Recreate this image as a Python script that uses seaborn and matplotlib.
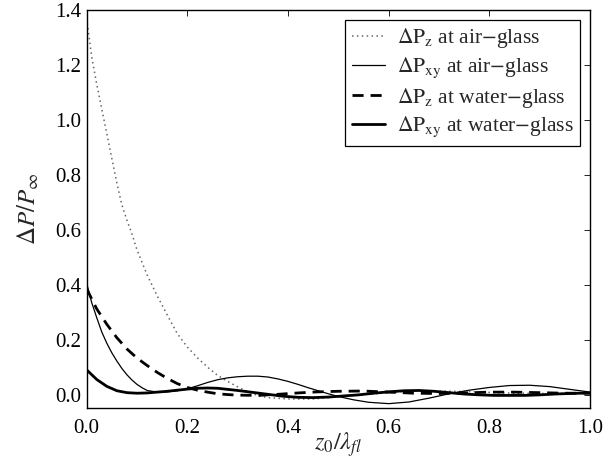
import numpy as np
import matplotlib
matplotlib.use('Agg')
import matplotlib.pyplot as plt
import seaborn as sns

sns.set_style('white')
plt.rcParams['font.family'] = ['Liberation Serif', 'DejaVu Serif']
plt.rcParams['mathtext.fontset'] = 'stix'

# air-glass, dPz (dotted)
x_air_z = [0, 0.005, 0.01, 0.02, 0.03, 0.04, 0.05, 0.06, 0.07, 0.08, 0.09, 0.10,
           0.12, 0.14, 0.16, 0.18, 0.20, 0.22, 0.24, 0.26, 0.28, 0.30, 0.32, 0.34,
           0.36, 0.40, 0.45, 0.50, 0.55, 0.60, 0.65, 0.70, 0.75, 0.80, 0.85, 0.90,
           0.95, 1.0]
y_air_z = [1.37, 1.30, 1.23, 1.13, 1.04, 0.95, 0.86, 0.77, 0.69, 0.635, 0.585, 0.527,
           0.436, 0.36, 0.29, 0.222, 0.173, 0.134, 0.10, 0.07, 0.048, 0.028, 0.01, -0.004,
           -0.011, -0.016, -0.016, -0.008, 0.0, 0.007, 0.014, 0.013, 0.011, 0.008, 0.005, 0.004,
           0.004, 0.005]

# air-glass, dPxy (thin solid)
x_air_xy = [0, 0.01, 0.02, 0.03, 0.04, 0.05, 0.06, 0.07, 0.08, 0.09, 0.10, 0.11, 0.12,
            0.14, 0.16, 0.18, 0.20, 0.22, 0.24, 0.26, 0.28, 0.30, 0.32, 0.34, 0.36, 0.38,
            0.40, 0.42, 0.44, 0.46, 0.48, 0.50, 0.53, 0.56, 0.60, 0.64, 0.68, 0.72, 0.76,
            0.80, 0.84, 0.88, 0.92, 0.96, 1.0]
y_air_xy = [0.405, 0.335, 0.28, 0.228, 0.187, 0.152, 0.122, 0.095, 0.072, 0.053, 0.037,
            0.025, 0.015, 0.009, 0.01, 0.014, 0.021, 0.032, 0.044, 0.054, 0.061, 0.065,
            0.067, 0.067, 0.064, 0.057, 0.048, 0.037, 0.025, 0.014, 0.003, -0.007, -0.019,
            -0.028, -0.033, -0.027, -0.013, 0.003, 0.016, 0.026, 0.033, 0.034, 0.029, 0.019,
            0.009]

# water-glass, dPz (dashed)
x_wat_z = [0, 0.02, 0.04, 0.06, 0.08, 0.10, 0.12, 0.14, 0.16, 0.18, 0.20, 0.22, 0.24,
           0.26, 0.28, 0.30, 0.34, 0.38, 0.42, 0.46, 0.50, 0.55, 0.60, 0.65, 0.70, 0.75,
           0.80, 0.85, 0.90, 0.95, 1.0]
y_wat_z = [0.385, 0.312, 0.256, 0.207, 0.166, 0.133, 0.106, 0.081, 0.059, 0.04, 0.026,
           0.016, 0.009, 0.003, 0.0, -0.002, -0.003, 0.001, 0.006, 0.01, 0.012, 0.013,
           0.009, 0.005, 0.004, 0.006, 0.009, 0.009, 0.007, 0.005, 0.005]

# water-glass, dPxy (thick solid)
x_wat_xy = [0, 0.02, 0.04, 0.06, 0.08, 0.10, 0.12, 0.14, 0.16, 0.18, 0.20, 0.22, 0.24,
            0.26, 0.28, 0.30, 0.33, 0.36, 0.39, 0.42, 0.45, 0.48, 0.51, 0.54, 0.57, 0.60,
            0.63, 0.66, 0.69, 0.72, 0.75, 0.78, 0.81, 0.84, 0.87, 0.90, 0.93, 0.96, 1.0]
y_wat_xy = [0.09, 0.055, 0.03, 0.014, 0.007, 0.005, 0.006, 0.009, 0.012, 0.016, 0.02,
            0.023, 0.024, 0.023, 0.019, 0.015, 0.008, 0.001, -0.006, -0.01, -0.011, -0.009,
            -0.005, -0.001, 0.005, 0.01, 0.014, 0.015, 0.012, 0.007, 0.002, -0.001, -0.003,
            -0.003, -0.003, -0.001, 0.002, 0.004, 0.006]

labels = [r'$\Delta\mathrm{P}_\mathrm{z}$ at air$-$glass',
          r'$\Delta\mathrm{P}_\mathrm{xy}$ at air$-$glass',
          r'$\Delta\mathrm{P}_\mathrm{z}$ at water$-$glass',
          r'$\Delta\mathrm{P}_\mathrm{xy}$ at water$-$glass']

fig = plt.figure(figsize=(6.04, 4.62), dpi=100)
ax = fig.add_axes([0.1435, 0.1162, 0.8335, 0.8618])

sns.lineplot(x=x_air_z, y=y_air_z, ax=ax, color='#666666', lw=1.1,
             linestyle=(0, (1, 2.2)), label=labels[0])
sns.lineplot(x=x_air_xy, y=y_air_xy, ax=ax, color='black', lw=0.9,
             label=labels[1])
sns.lineplot(x=x_wat_z, y=y_wat_z, ax=ax, color='black', lw=2.0,
             linestyle=(0, (4, 2.5)), label=labels[2])
sns.lineplot(x=x_wat_xy, y=y_wat_xy, ax=ax, color='black', lw=2.0,
             label=labels[3])

ax.set_xlim(0, 1.0)
ax.set_ylim(-0.05, 1.4)
ax.set_xticks(np.arange(0, 1.01, 0.2))
ax.set_yticks(np.arange(0, 1.41, 0.2))
ax.set_xticklabels([f'{v:.1f}' for v in np.arange(0, 1.01, 0.2)])
ax.set_yticklabels([f'{v:.1f}' for v in np.arange(0, 1.41, 0.2)])
ax.tick_params(direction='in', length=4, width=0.6, top=True, right=True,
               labelsize=15, colors='black')
ax.tick_params(axis='x', pad=8)
ax.tick_params(axis='y', pad=4)
for s in ax.spines.values():
    s.set_color('black')
    s.set_linewidth(1.0)

ax.set_xlabel(r'$z_0/\lambda_{fl}$', fontsize=17.5)
ax.xaxis.set_label_coords(0.5, -0.056)
ax.set_ylabel(r'$\Delta P/P_\infty$', fontsize=18, labelpad=10)

leg = ax.legend(loc='upper right', fontsize=15.5, frameon=True, fancybox=False,
                handlelength=1.55, handletextpad=0.55, labelspacing=0.25,
                borderaxespad=0.45, borderpad=0.3)
leg.get_frame().set_edgecolor('black')
leg.get_frame().set_linewidth(0.9)
leg.get_frame().set_alpha(1)

fig.savefig('out.png', dpi=100)
